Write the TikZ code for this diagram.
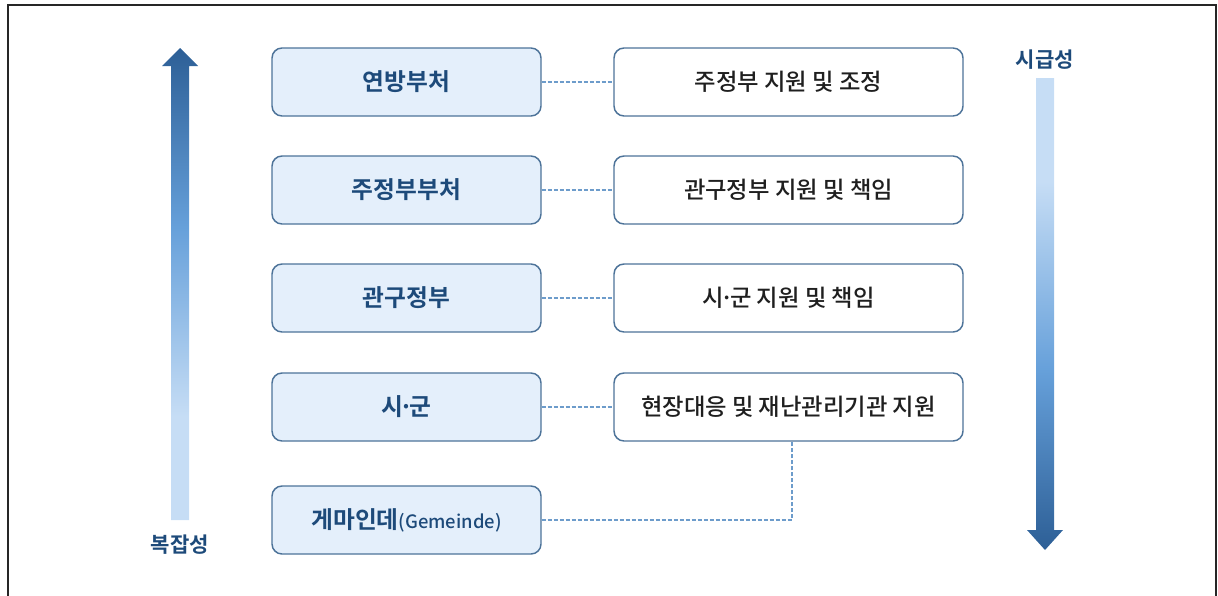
\documentclass[tikz,border=0pt]{standalone}
\usepackage{fontspec}
\setmainfont{Noto Sans CJK KR}
\newfontfamily\krbold{Noto Sans CJK KR Bold}
\newfontfamily\krmed{Noto Sans CJK KR Medium}
\newcommand\mdot{\kern-0.15em·\kern-0.15em}
\definecolor{boxfill}{HTML}{E4EFFB}
\definecolor{boxline}{HTML}{4D7399}
\definecolor{txtblue}{HTML}{1D4A7A}
\definecolor{dashc}{HTML}{6D9CCB}
\definecolor{arrdark}{HTML}{2D5F96}
\definecolor{arrmid}{HTML}{66A0DA}
\definecolor{arrlight}{HTML}{C6DDF5}
\pgfdeclareverticalshading{arrowup}{100bp}{color(0bp)=(arrlight); color(25bp)=(arrlight); color(36bp)=(arrlight); color(56bp)=(arrmid); color(75bp)=(arrdark); color(100bp)=(arrdark)}
\pgfdeclareverticalshading{arrowdown}{100bp}{color(0bp)=(arrdark); color(25bp)=(arrdark); color(44bp)=(arrmid); color(64bp)=(arrlight); color(75bp)=(arrlight); color(100bp)=(arrlight)}
\begin{document}
\begin{tikzpicture}[x=0.75pt,y=-0.75pt,
  lbox/.style={draw=boxline,line width=1.1pt,fill=boxfill,rounded corners=7.5pt,minimum width=201.75pt,minimum height=51pt,inner sep=0pt,text=txtblue,font=\krbold\fontsize{17.8}{20}\selectfont},
  rbox/.style={draw=boxline,line width=1.1pt,fill=white,rounded corners=7.5pt,minimum width=261.75pt,minimum height=51pt,inner sep=0pt,text=black!88,font=\krmed\fontsize{17.5}{20}\selectfont},
  conn/.style={draw=dashc,line width=0.8pt,dash pattern=on 3pt off 1.5pt},
  lbl/.style={text=txtblue,font=\krbold\fontsize{15.8}{18}\selectfont}]
\useasboundingbox (0,0) rectangle (1218,596);
\draw[line width=1.2pt,black!85] (8,600) -- (8,5) -- (1216,5) -- (1216,600);
% left boxes
\node[lbox] (l1) at (406.5,82) {연방부처};
\node[lbox] (l2) at (406.5,190) {주정부부처};
\node[lbox] (l3) at (406.5,298) {관구정부};
\node[lbox] (l4) at (406.5,407) {시\mdot 군};
\node[lbox] (l5) at (406.5,520) {게마인데{\krmed\fontsize{13.8}{15}\selectfont (Gemeinde)}};
% right boxes
\node[rbox] (r1) at (788.5,82) {주정부 지원 및 조정};
\node[rbox] (r2) at (788.5,190) {관구정부 지원 및 책임};
\node[rbox] (r3) at (788.5,298) {시\mdot 군 지원 및 책임};
\node[rbox] (r4) at (788.5,407) {현장대응 및 재난관리기관 지원};
% connectors
\draw[conn] (l1.east) -- (r1.west);
\draw[conn] (l2.east) -- (r2.west);
\draw[conn] (l3.east) -- (r3.west);
\draw[conn] (l4.east) -- (r4.west);
\coordinate (bend) at (792,520);
\draw[conn] (l5.east) -- (bend) -- (bend |- r4.south);
% left arrow (up)
\shade[shading=arrowup]
  (171,520) -- (171,66) -- (162,66) -- (180,48) -- (198,66) -- (189,66) -- (189,520) -- cycle;
\node[lbl] (cx) at (180,545) {복잡성};
% right arrow (down)
\shade[shading=arrowdown]
  (1036,78) -- (1036,530) -- (1027,530) -- (1045,550) -- (1063,530) -- (1054,530) -- (1054,78) -- cycle;
\node[lbl] (ur) at (1045,60) {시급성};
\end{tikzpicture}
\end{document}
